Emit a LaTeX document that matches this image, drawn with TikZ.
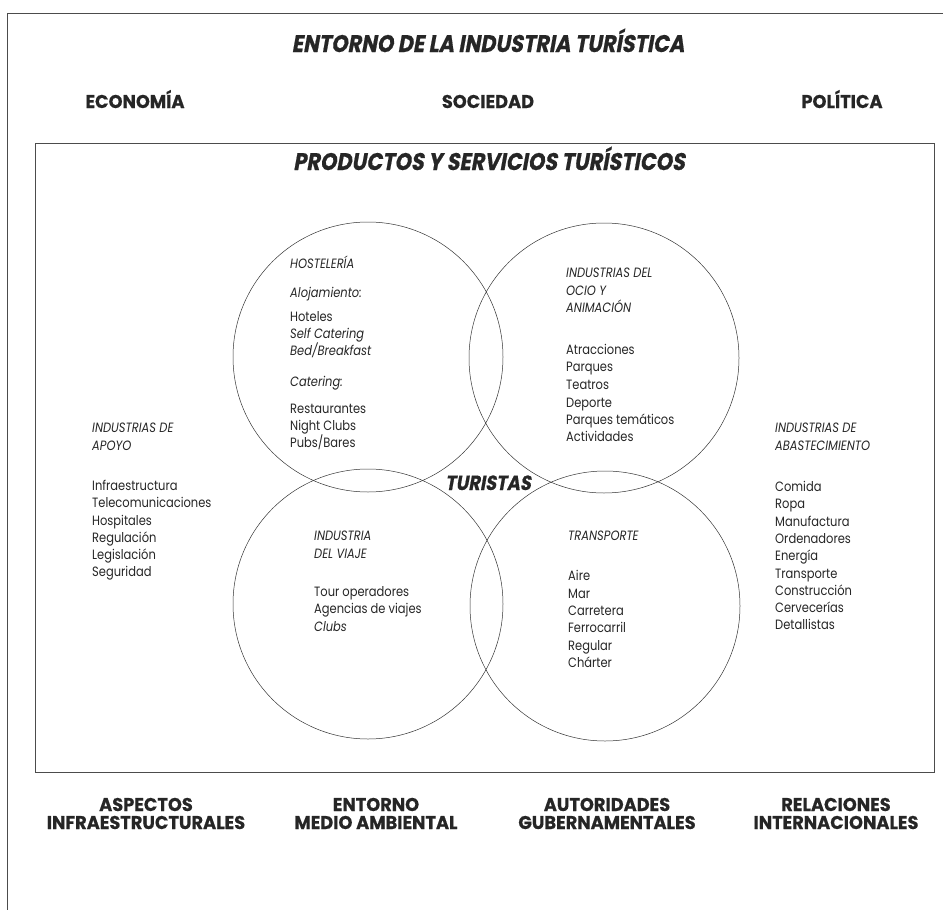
\documentclass[tikz,border=0pt]{standalone}
\usepackage{fontspec}
\setmainfont{Poppins}
\newfontfamily\headfont[FakeStretch=0.96,BoldFeatures={FakeBold=0.5}]{Poppins}
\newfontfamily\headitfont[FakeStretch=0.87,FakeSlant=0.18,BoldFeatures={FakeBold=0.6}]{Poppins}
\newfontfamily\bodyfont[FakeStretch=0.85]{Poppins}
\begin{document}
\begin{tikzpicture}[x=1pt,y=-1pt,
  frame/.style={line width=0.7pt, draw=black!70},
  ring/.style={circle, draw=black!80, line width=0.5pt, minimum size=270pt, inner sep=0pt},
  bighead/.style={font=\headitfont\bfseries\fontsize{24}{24}\selectfont, text=black!85, inner sep=0pt, anchor=base},
  midhead/.style={font=\headfont\bfseries\fontsize{18.5}{18.5}\selectfont, text=black!85, inner sep=0pt, anchor=base},
  body/.style={font=\bodyfont\fontsize{13.5}{13.5}\selectfont, text=black!85, inner sep=0pt, anchor=base west}
]
\useasboundingbox (0,0) rectangle (943,910);
% frames
\coordinate (ofa) at (7,910);
\coordinate (ofb) at (7,13);
\coordinate (ofc) at (943,13);
\draw[frame] (ofa) -- (ofb) -- (ofc);
\coordinate (iba) at (35,143);
\coordinate (ibb) at (934,772);
\draw[frame] (iba) rectangle (ibb);
% headings
\node[bighead] (t1) at (488,52) {ENTORNO DE LA INDUSTRIA TURÍSTICA};
\node[midhead] (eco) at (135,108) {ECONOMÍA};
\node[midhead] (soc) at (488,108) {SOCIEDAD};
\node[midhead] (pol) at (842,108) {POLÍTICA};
\node[bighead] (t2) at (489,170) {PRODUCTOS Y SERVICIOS TURÍSTICOS};
% circles
\node[ring] (c1) at (368,357) {};
\node[ring] (c2) at (604,358) {};
\node[ring] (c3) at (368,604) {};
\node[ring] (c4) at (605,606) {};
\node[bighead, font=\headitfont\bfseries\fontsize{20.5}{20.5}\selectfont] (tur) at (488,490) {TURISTAS};
% hosteleria
\foreach \t/\yy [count=\i] in {{\itshape HOSTELERÍA}/268, {\itshape Alojamiento:}/297, Hoteles/321, {\itshape Self Catering}/338, {\itshape Bed/Breakfast}/355, {\itshape Catering:}/386, Restaurantes/413, Night Clubs/430, {Pubs/Bares}/447}
  \node[body] (h\i) at (290,\yy) {\t};
% ocio
\foreach \t/\yy [count=\i] in {{\itshape INDUSTRIAS DEL}/277, {\itshape OCIO Y}/295, {\itshape ANIMACIÓN}/312, Atracciones/354, Parques/371, Teatros/389, Deporte/407, Parques temáticos/424, Actividades/441}
  \node[body] (o\i) at (566,\yy) {\t};
% apoyo
\foreach \t/\yy [count=\i] in {{\itshape INDUSTRIAS DE}/432, {\itshape APOYO}/450, Infraestructura/490, Telecomunicaciones/507, Hospitales/525, Regulación/542, Legislación/559, Seguridad/576}
  \node[body] (a\i) at (92,\yy) {\t};
% abastecimiento
\foreach \t/\yy [count=\i] in {{\itshape INDUSTRIAS DE}/432, {\itshape ABASTECIMIENTO}/450, Comida/491, Ropa/508, Manufactura/526, Ordenadores/543, Energía/560, Transporte/578, Construcción/595, Cervecerías/612, Detallistas/629}
  \node[body] (b\i) at (775,\yy) {\t};
% viaje
\foreach \t/\yy [count=\i] in {{\itshape INDUSTRIA}/540, {\itshape DEL VIAJE}/558, Tour operadores/596, Agencias de viajes/613, {\itshape Clubs}/631}
  \node[body] (v\i) at (314,\yy) {\t};
% transporte
\foreach \t/\yy [count=\i] in {{\itshape TRANSPORTE}/540, Aire/580, Mar/598, Carretera/615, Ferrocarril/632, Regular/650, Chárter/667}
  \node[body] (r\i) at (568,\yy) {\t};
% bottom labels
\node[midhead] (bl1) at (146,811) {ASPECTOS};
\node[midhead] (bl2) at (146,829) {INFRAESTRUCTURALES};
\node[midhead] (bl3) at (376,811) {ENTORNO};
\node[midhead] (bl4) at (376,829) {MEDIO AMBIENTAL};
\node[midhead] (bl5) at (607,811) {AUTORIDADES};
\node[midhead] (bl6) at (607,829) {GUBERNAMENTALES};
\node[midhead] (bl7) at (836,811) {RELACIONES};
\node[midhead] (bl8) at (836,829) {INTERNACIONALES};
\end{tikzpicture}
\end{document}
